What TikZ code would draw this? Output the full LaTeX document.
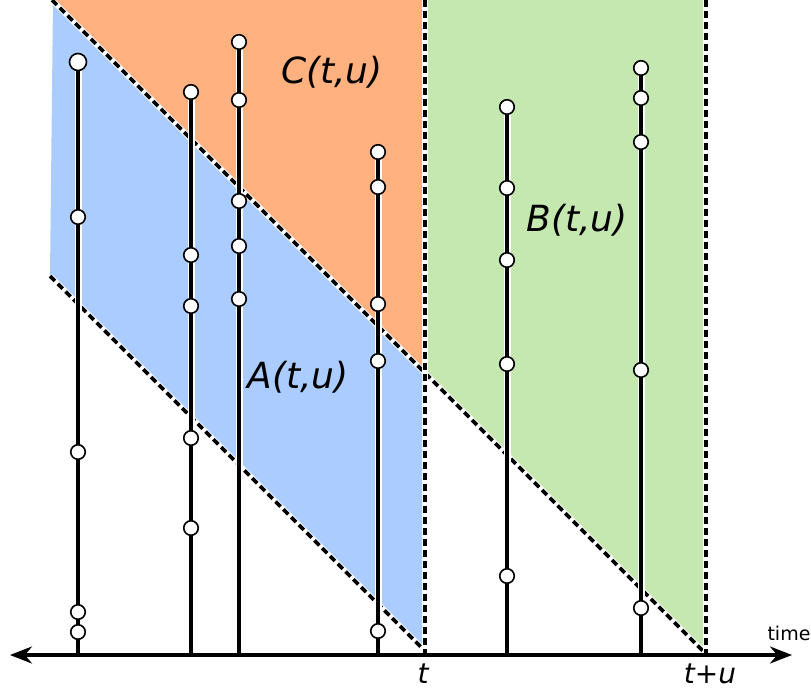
\documentclass[tikz,border=0pt]{standalone}
\usepackage{fontspec}
\setmainfont{DejaVu Sans}
\usetikzlibrary{arrows.meta}
\definecolor{corange}{RGB}{255,177,128}
\definecolor{cblue}{RGB}{170,204,255}
\definecolor{cgreen}{RGB}{197,231,176}
\tikzset{
  halo/.style={white,line width=7pt},
  stem/.style={black,line width=3.2pt},
  dashline/.style={black,line width=3.6pt,dash pattern=on 7pt off 4pt},
  ev/.style={circle,draw=black,fill=white,line width=1.6pt,inner sep=0pt,minimum size=14.5pt},
  lab/.style={font=\itshape\fontsize{36}{36}\selectfont},
  tick/.style={font=\itshape\fontsize{28}{28}\selectfont}
}
\begin{document}
\begin{tikzpicture}[x=1pt,y=-1pt]
\useasboundingbox (0,0) rectangle (811,689);
% regions
\fill[corange] (53,0) -- (425,0) -- (425,372) -- cycle;
\fill[cblue] (53,0) -- (425,372) -- (425,651) -- (50,276) -- cycle;
\fill[cgreen] (425,0) -- (706,0) -- (706,654) -- (425,373) -- cycle;
% dashed boundaries
\coordinate (d1a) at (52,0); \coordinate (d1b) at (706,654);
\coordinate (d2a) at (50,276); \coordinate (d2b) at (425,651);
\coordinate (v1a) at (425,0); \coordinate (v1b) at (425,655);
\coordinate (v2a) at (706,0); \coordinate (v2b) at (706,655);
\foreach \a/\b in {d1a/d1b,d2a/d2b,v1a/v1b,v2a/v2b}{
  \draw[white,line width=5.5pt] (\a) -- (\b);
  \draw[dashline] (\a) -- (\b);
}
% stems with events
\foreach \i/\x/\top/\ys in {1/78/62/{62,217,452,612,632},2/191/92/{92,255,306,438,528},3/239/42/{42,100,201,246,299},4/378/152/{152,187,304,361,631},5/507/107/{107,188,260,364,576},6/641/68/{68,98,142,370,608}}{
  \coordinate (b\i) at (\x,655);
  \coordinate (t\i) at (\x,\top);
  \draw[halo] (b\i) -- (t\i);
  \draw[stem] (b\i) -- (t\i);
  \foreach \y [count=\k] in \ys {
    \node[ev] (e\i-\k) at (\x,\y) {};
  }
}
\node[ev,minimum size=17pt] (e1-top) at (78,62) {};
% axis
\coordinate (axl) at (10,655);
\coordinate (axr) at (792,655);
\draw[line width=3.2pt,{Stealth[length=22pt,width=17pt]}-{Stealth[length=22pt,width=17pt]}] (axl) -- (axr);
% labels
\node[lab] (lc) at (332,72) {C(t,u)};
\node[lab] (lb) at (577,220) {B(t,u)};
\node[lab] (la) at (298,377) {A(t,u)};
\node[tick] (lt) at (423,674) {t};
\node[tick] (ltu) at (710,674) {t+u};
\node[font=\fontsize{19}{19}\selectfont] (ltime) at (789,633) {time};
\end{tikzpicture}
\end{document}
